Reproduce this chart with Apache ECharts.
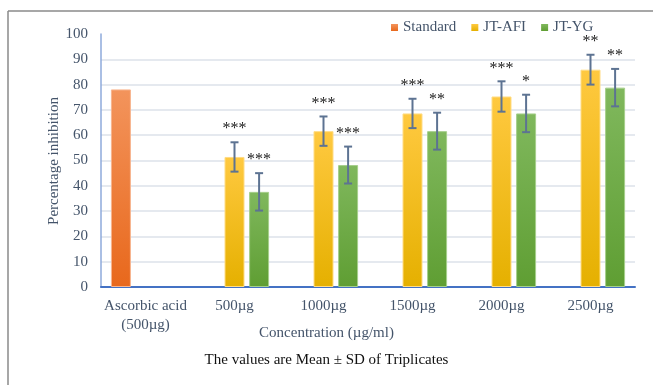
<!DOCTYPE html>
<html><head><meta charset="utf-8">
<script src="https://cdn.jsdelivr.net/npm/echarts@6/dist/echarts.min.js"></script>
<style>html,body{margin:0;padding:0;background:#fff}#c{width:653px;height:385px}</style>
</head><body><div id="c"></div>
<script>
const categories = ['Ascorbic acid\n(500µg)', '500µg', '1000µg', '1500µg', '2000µg', '2500µg'];
const standard = [78.1, null, null, null, null, null];
const afi = [null, 51.4, 61.6, 68.6, 75.3, 85.9];
const yg = [null, 37.6, 48.2, 61.6, 68.6, 78.8];
const afiSD = [null, 5.8, 5.8, 5.8, 6.0, 5.9];
const ygSD = [null, 7.4, 7.3, 7.3, 7.4, 7.4];
const afiStars = ['', '***', '***', '***', '***', '**'];
const ygStars = ['', '***', '***', '**', '*', '**'];
const seriesNames = ['Standard', 'JT-AFI', 'JT-YG'];

const FONT = 'Liberation Serif';
const TXT = '#44546a';
const barW = 20, gapRatio = 0.23;
const slot = barW * (1 + gapRatio);

function grad(top, bottom) {
  return new echarts.graphic.LinearGradient(0, 0, 0, 1, [{offset: 0, color: top}, {offset: 1, color: bottom}]);
}

function errData(vals, sds) {
  const out = [];
  vals.forEach((v, i) => { if (v != null) out.push([i, v, sds[i]]); });
  return out;
}

function errSeries(vals, sds, stars, offset) {
  return {
    type: 'custom', silent: true, z: 5,
    data: errData(vals, sds),
    encode: {x: 0, y: 1},
    renderItem: function (params, api) {
      const v = api.value(1), sd = api.value(2);
      const x = api.coord([api.value(0), 0])[0] + offset;
      const yt = api.coord([0, v + sd])[1];
      const yb = api.coord([0, v - sd])[1];
      const st = {stroke: '#5d7392', lineWidth: 2};
      const cw = 4;
      const star = stars[api.value(0)];
      return {type: 'group', children: [
        {type: 'line', shape: {x1: x, y1: yt, x2: x, y2: yb}, style: st},
        {type: 'line', shape: {x1: x - cw, y1: yt, x2: x + cw, y2: yt}, style: st},
        {type: 'line', shape: {x1: x - cw, y1: yb, x2: x + cw, y2: yb}, style: st},
        {type: 'text', style: {text: star, x: x, y: yt - 5, align: 'center', verticalAlign: 'bottom',
          font: '16px "' + FONT + '"', fill: '#222'}}
      ]};
    }
  };
}

const chart = echarts.init(document.getElementById('c'), null, {renderer: 'canvas'});
chart.setOption({
  animation: false,
  textStyle: {fontFamily: FONT},
  grid: {left: 101, right: 18, top: 34, bottom: 98, containLabel: false},
  legend: {
    data: seriesNames, left: 386, top: 15, itemWidth: 7, itemHeight: 7, itemGap: 15,
    icon: 'rect', itemStyle: {borderWidth: 0},
    textStyle: {fontFamily: FONT, fontSize: 15, color: TXT}
  },
  xAxis: {
    type: 'category', data: categories,
    axisLine: {lineStyle: {color: '#4472c4', width: 2}},
    axisTick: {show: false},
    axisLabel: {interval: 0, fontFamily: FONT, fontSize: 15, color: TXT, margin: 10, lineHeight: 19}
  },
  yAxis: {
    type: 'value', min: 0, max: 100, interval: 10,
    axisLine: {show: true, lineStyle: {color: '#8eaadb', width: 1.5}},
    axisTick: {show: false},
    axisLabel: {fontFamily: FONT, fontSize: 15, color: TXT, margin: 13},
    splitLine: {show: true, showMaxLine: false, showMinLine: false, lineStyle: {color: '#dde2ea', width: 1.5}}
  },
  graphic: [
    {type: 'line', silent: true, shape: {x1: 8, y1: 11, x2: 653, y2: 11},
      style: {stroke: '#8a8a8a', lineWidth: 1.5}},
    {type: 'line', silent: true, shape: {x1: 8, y1: 11, x2: 8, y2: 385},
      style: {stroke: '#8a8a8a', lineWidth: 1.5}},
    {type: 'text', silent: true, x: 54, y: 161, rotation: Math.PI / 2,
      style: {text: 'Percentage inhibition', font: '15px "' + FONT + '"', fill: TXT, align: 'center', verticalAlign: 'middle'}},
    {type: 'text', left: 'center', top: 326, silent: true,
      style: {text: 'Concentration (µg/ml)', font: '15px "' + FONT + '"', fill: TXT}, x: -7},
    {type: 'text', left: 'center', top: 353, silent: true,
      style: {text: 'The values are Mean ± SD of Triplicates', font: '15px "' + FONT + '"', fill: '#111'}}
  ],
  series: [
    {name: seriesNames[0], type: 'bar', data: standard, barWidth: barW, barGap: (gapRatio * 100) + '%',
      itemStyle: {color: grad('#f3945c', '#e8681c'), borderColor: '#f8b58e', borderWidth: 1}},
    {name: seriesNames[1], type: 'bar', data: afi, barWidth: barW, barGap: (gapRatio * 100) + '%',
      itemStyle: {color: grad('#ffc940', '#e5b000'), borderColor: '#ffdc85', borderWidth: 1}},
    {name: seriesNames[2], type: 'bar', data: yg, barWidth: barW, barGap: (gapRatio * 100) + '%',
      itemStyle: {color: grad('#80b85d', '#5f9e33'), borderColor: '#a6cf8c', borderWidth: 1}},
    errSeries(afi, afiSD, afiStars, 0),
    errSeries(yg, ygSD, ygStars, slot)
  ]
});
</script></body></html>
